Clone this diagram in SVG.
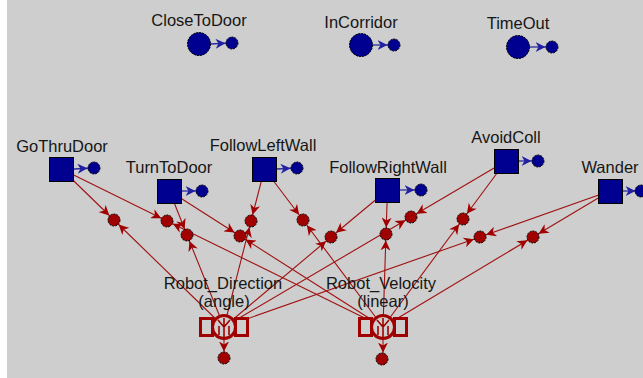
<svg xmlns="http://www.w3.org/2000/svg" width="643" height="378" viewBox="0 0 643 378">
<style>
text{font-family:"Liberation Sans",Arial,sans-serif;font-size:16.5px;fill:#161616;text-anchor:middle}
.c{stroke:#a01010;stroke-width:1.1;fill:none;marker-end:url(#ar)}
.b{stroke:#2a2aa8;stroke-width:1.3;fill:none;marker-end:url(#ab)}
.w{fill:#a00000;stroke:#000;stroke-width:1;stroke-dasharray:2 1}
.sq{fill:#000090;stroke:#000;stroke-width:1}
.big{fill:#000090;stroke:#000;stroke-width:1;stroke-dasharray:2 1}
.sm{fill:#000090;stroke:#000;stroke-width:1;stroke-dasharray:2 1}
.ic{fill:#cecece;stroke:#a00000;stroke-width:3}
.gl{fill:none;stroke:#a00000;stroke-width:1.6}
</style>
<defs>
<marker id="ar" viewBox="0 0 10 10" refX="16.5" refY="5" markerWidth="10" markerHeight="10" markerUnits="userSpaceOnUse" orient="auto"><path d="M0,0 L10,5 L0,10 L3,5z" fill="#a00000"/></marker>
<marker id="ab" viewBox="0 0 10 10" refX="16.5" refY="5" markerWidth="10" markerHeight="10" markerUnits="userSpaceOnUse" orient="auto"><path d="M0,0 L10,5 L0,10 L3,5z" fill="#2020a0"/></marker>
</defs>
<rect width="643" height="378" fill="#cecece"/>
<rect width="7" height="378" fill="#ffffff"/>
<g id="connectors">
<path class="c" d="M61.5,169 L114,220"/><path class="c" d="M224,327 L114,220"/>
<path class="c" d="M61.5,169 L167,221"/><path class="c" d="M383,327 L167,221"/>
<path class="c" d="M169.5,191 L187,235"/><path class="c" d="M224,327 L187,235"/>
<path class="c" d="M169.5,191 L240,236"/><path class="c" d="M383,327 L240,236"/>
<path class="c" d="M264.5,169 L251,221"/><path class="c" d="M224,327 L251,221"/>
<path class="c" d="M264.5,169 L303,220"/><path class="c" d="M383,327 L303,220"/>
<path class="c" d="M387.5,190 L331,237"/><path class="c" d="M224,327 L331,237"/>
<path class="c" d="M387.5,190 L386,234"/><path class="c" d="M383,327 L386,234"/>
<path class="c" d="M506,161 L411,217"/><path class="c" d="M224,327 L411,217"/>
<path class="c" d="M506,161 L463,219"/><path class="c" d="M383,327 L463,219"/>
<path class="c" d="M610,191 L480,237"/><path class="c" d="M224,327 L480,237"/>
<path class="c" d="M610,191 L533,237"/><path class="c" d="M383,327 L533,237"/>
<path class="c" d="M224,338 L224,358"/>
<path class="c" d="M383,338 L383,359"/>
<path class="b" d="M210,44 L232,43"/>
<path class="b" d="M372,45 L394,45"/>
<path class="b" d="M529,47 L552,47"/>
<path class="b" d="M74,169 L94,168"/>
<path class="b" d="M182,191 L202,191"/>
<path class="b" d="M277,169 L297,168"/>
<path class="b" d="M400,190 L421,190"/>
<path class="b" d="M518,161 L538,161"/>
<path class="b" d="M622,191 L642,191"/>
<circle class="w" cx="114" cy="220" r="6"/>
<circle class="w" cx="167" cy="221" r="6"/>
<circle class="w" cx="187" cy="235" r="6"/>
<circle class="w" cx="240" cy="236" r="6"/>
<circle class="w" cx="251" cy="221" r="6"/>
<circle class="w" cx="303" cy="220" r="6"/>
<circle class="w" cx="331" cy="237" r="6"/>
<circle class="w" cx="386" cy="234" r="6"/>
<circle class="w" cx="411" cy="217" r="6"/>
<circle class="w" cx="463" cy="219" r="6"/>
<circle class="w" cx="480" cy="237" r="6"/>
<circle class="w" cx="533" cy="237" r="6"/>
</g>
<g id="CloseToDoor"><text x="199" y="26">CloseToDoor</text><circle class="big" cx="199" cy="44" r="11.5"/><circle class="sm" cx="232" cy="43" r="6"/></g>
<g id="InCorridor"><text x="361" y="28">InCorridor</text><circle class="big" cx="361" cy="45" r="11.5"/><circle class="sm" cx="394" cy="45" r="6"/></g>
<g id="TimeOut"><text x="518" y="29">TimeOut</text><circle class="big" cx="518" cy="47" r="11.5"/><circle class="sm" cx="552" cy="47" r="6"/></g>
<g id="GoThruDoor"><text x="62" y="152">GoThruDoor</text><rect class="sq" x="49.5" y="157.5" width="24" height="24"/><circle class="sm" cx="94" cy="168" r="6"/></g>
<g id="TurnToDoor"><text x="169" y="173">TurnToDoor</text><rect class="sq" x="157.5" y="179.5" width="24" height="24"/><circle class="sm" cx="202" cy="191" r="6"/></g>
<g id="FollowLeftWall"><text x="263" y="151">FollowLeftWall</text><rect class="sq" x="252.5" y="157.5" width="24" height="24"/><circle class="sm" cx="297" cy="168" r="6"/></g>
<g id="FollowRightWall"><text x="388" y="173">FollowRightWall</text><rect class="sq" x="375.5" y="178.5" width="24" height="24"/><circle class="sm" cx="421" cy="190" r="6"/></g>
<g id="AvoidColl"><text x="506" y="143">AvoidColl</text><rect class="sq" x="494.5" y="149.5" width="24" height="24"/><circle class="sm" cx="538" cy="161" r="6"/></g>
<g id="Wander"><text x="610" y="173">Wander</text><rect class="sq" x="598.5" y="179.5" width="24" height="24"/><circle class="sm" cx="641" cy="191" r="6"/></g>
<g id="Robot_Direction">
<text x="223" y="289">Robot_Direction</text><text x="224" y="307">(angle)</text>
<rect class="ic" x="200.5" y="318.5" width="12" height="17"/><rect class="ic" x="235.5" y="318.5" width="12" height="17"/>
<circle class="ic" cx="224" cy="327" r="11.5"/>
<path class="gl" d="M218,320 L224,327 L230,320 M224,318 V338 M219,326 V335 M229,326 V335"/>
<circle class="w" cx="224" cy="358" r="6"/>
</g>
<g id="Robot_Velocity">
<text x="381" y="289">Robot_Velocity</text><text x="383" y="307">(linear)</text>
<rect class="ic" x="359.5" y="318.5" width="12" height="17"/><rect class="ic" x="394.5" y="318.5" width="12" height="17"/>
<circle class="ic" cx="383" cy="327" r="11.5"/>
<path class="gl" d="M377,320 L383,327 L389,320 M383,318 V338 M378,326 V335 M388,326 V335"/>
<circle class="w" cx="382" cy="359" r="6"/>
</g>
</svg>
